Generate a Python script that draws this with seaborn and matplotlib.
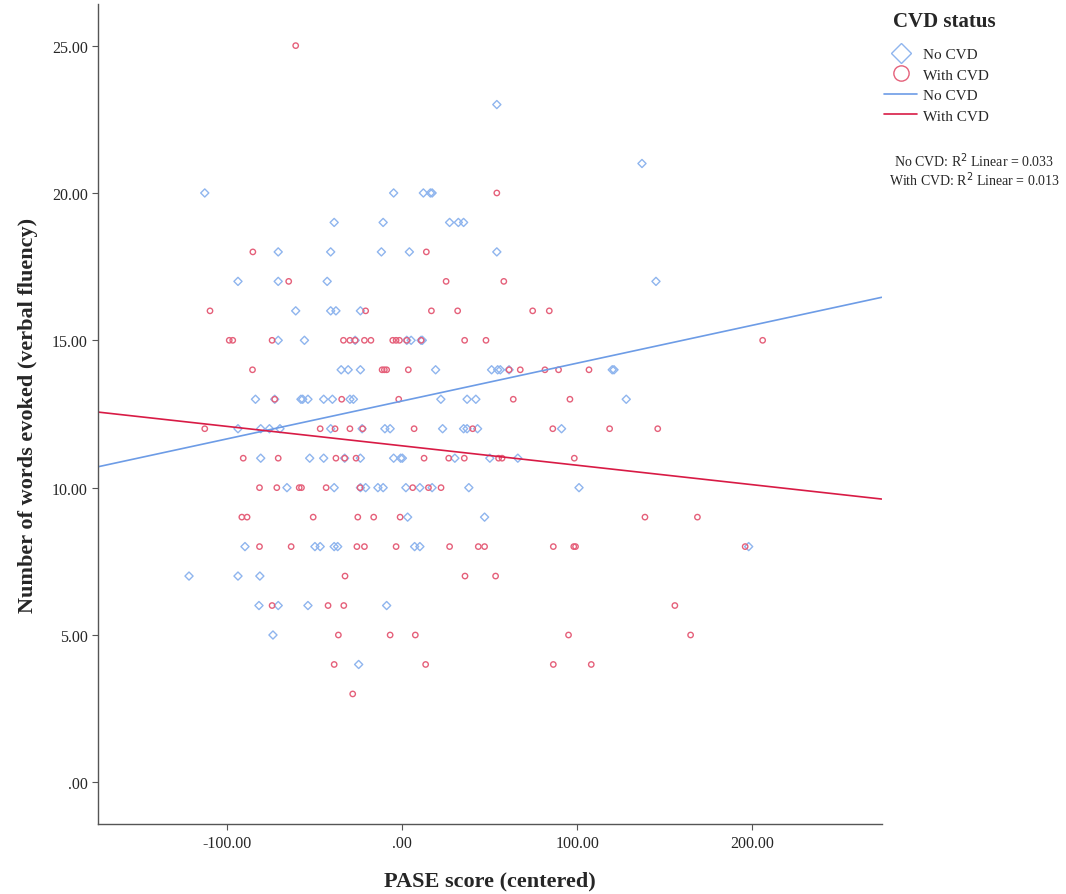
import numpy as np
import pandas as pd
import matplotlib
matplotlib.use("Agg")
import matplotlib.pyplot as plt
from matplotlib.lines import Line2D
from matplotlib.ticker import FuncFormatter
import seaborn as sns

# Values (PASE centered, words evoked)
no_cvd_x = [54, 137,
            -113, -5, 12, 16, 17,
            -39, -11, 27, 32, 35,
            -71, -41, -12, 4, 54,
            -94, -71, -43, 145,
            -61, -41, -38, -24,
            -71, -56, -27, 2.5, 5, 10.7, 11.4,
            -35, -31, -24, 19, 51, 54.5, 56, 61, 120, 121,
            -84, -73, -58, -57, -54, -45, -40, -30, -28, 22, 37, 42, 128,
            -94, -81, -76, -70, -41, -23, -10, -7, 23, 35, 37, 43, 91,
            -81, -53, -45, -33, -24, -5, -1, 0, 30, 50, 66,
            -66, -39, -24, -21, -14, -11, 2, 10, 17, 38, 101,
            3, 47,
            -90, -50, -47, -39, -37, 7, 10, 198,
            -122, -94, -81.5,
            -82, -71, -54, -9,
            -74,
            -25]
no_cvd_y = ([23, 21] + [20] * 5 + [19] * 5 + [18] * 5 + [17] * 4 + [16] * 4
            + [15] * 7 + [14] * 10 + [13] * 13 + [12] * 13 + [11] * 11
            + [10] * 11 + [9] * 2 + [8] * 8 + [7] * 3 + [6] * 4 + [5] + [4])

cvd_x = [-61,
         54,
         -85.5, 13.7,
         -65, 25, 58,
         -110, -21, 16.6, 31.6, 74.5, 84,
         -99, -97, -74.5, -33.7, -30, -27, -21.7, -18, -5.5, -3.6, -1.7, 2.5, 10.7, 35.6, 47.8, 206,
         -85.7, -11.6, -10.3, -9, 3.4, 61, 67.4, 81.5, 89.3, 106.7,
         -73, -34.7, -2.1, 63.4, 95.8,
         -113, -47, -38.5, -30, -22.7, 6.7, 40.2, 86, 118.5, 146,
         -91, -71, -38, -33, -26.5, 12.4, 26.5, 35.4, 55, 57, 98.3,
         -81.7, -71.8, -59, -57.7, -43.6, -24.2, 5.9, 14.9, 22.1,
         -91.8, -88.8, -51, -25.5, -16.4, -1.3, 138.7, 168.7,
         -81.7, -63.6, -26, -21.7, -3.6, 27, 43.4, 47, 86.3, 98, 99, 196,
         -32.8, 35.8, 53.3,
         -74.5, -42.5, -33.5, 155.8,
         -36.6, -7, 7.4, 95, 164.8,
         -39, 13.3, 86.3, 108,
         -28.4]
cvd_y = ([25, 20] + [18] * 2 + [17] * 3 + [16] * 6 + [15] * 16 + [14] * 10
         + [13] * 5 + [12] * 10 + [11] * 11 + [10] * 9 + [9] * 8 + [8] * 12
         + [7] * 3 + [6] * 4 + [5] * 5 + [4] * 4 + [3])

groups = ["No CVD", "With CVD"]
r2_values = [0.033, 0.013]

BLUE_PT = "#8fb5ee"
BLUE_LN = "#6d9ce6"
RED_PT = "#e5607a"
RED_LN = "#d81b45"

df = pd.concat([
    pd.DataFrame({"pase": no_cvd_x, "words": no_cvd_y, "cvd": groups[0]}),
    pd.DataFrame({"pase": cvd_x, "words": cvd_y, "cvd": groups[1]}),
], ignore_index=True)

sns.set_style("white")
plt.rcParams["font.family"] = ["Liberation Serif", "DejaVu Serif"]

fig = plt.figure(figsize=(10.66, 8.95), dpi=100)
ax = fig.add_axes([0.092, 0.078, 0.735, 0.916])
ax.set_xlim(-174, 274)
ax.set_ylim(-1.42, 26.4)

sub_b = df[df["cvd"] == groups[0]]
sub_r = df[df["cvd"] == groups[1]]
sns.scatterplot(data=sub_b, x="pase", y="words", marker="D", s=17,
                fc="none", ec=BLUE_PT, linewidth=1.0, ax=ax)
sns.scatterplot(data=sub_r, x="pase", y="words", marker="o", s=15,
                fc="none", ec=RED_PT, linewidth=1.0, ax=ax)

# linear fit lines spanning the whole axis
sns.regplot(data=sub_b, x="pase", y="words", scatter=False, ci=None,
            truncate=False, color=BLUE_LN, line_kws={"linewidth": 1.2}, ax=ax)
sns.regplot(data=sub_r, x="pase", y="words", scatter=False, ci=None,
            truncate=False, color=RED_LN, line_kws={"linewidth": 1.2}, ax=ax)
ax.set_xlim(-174, 274)

ax.set_xticks([-100, 0, 100, 200])
ax.set_yticks([0, 5, 10, 15, 20, 25])
fmt = FuncFormatter(lambda v, p: ".00" if v == 0 else f"{v:.2f}")
ax.xaxis.set_major_formatter(fmt)
ax.yaxis.set_major_formatter(fmt)
ax.tick_params(axis="both", labelsize=11.5, length=4, color="#555555",
               direction="out", left=True, bottom=True)

for s in ["top", "right"]:
    ax.spines[s].set_visible(False)
for s in ["left", "bottom"]:
    ax.spines[s].set_color("#555555")
    ax.spines[s].set_linewidth(1.0)

ax.set_xlabel("PASE score (centered)", fontsize=16, fontweight="bold", labelpad=14)
ax.set_ylabel("Number of words evoked (verbal fluency)", fontsize=16,
              fontweight="bold", labelpad=10)

handles = [
    Line2D([], [], marker="D", linestyle="none", markersize=10, mfc="none",
           mec=BLUE_PT, mew=1.0),
    Line2D([], [], marker="o", linestyle="none", markersize=11, mfc="none",
           mec=RED_PT, mew=1.0),
    Line2D([], [], color=BLUE_LN, linewidth=1.2),
    Line2D([], [], color=RED_LN, linewidth=1.2),
]
labels = [groups[0], groups[1], groups[0], groups[1]]
fig.text(0.886, 0.975, "CVD status", ha="center", va="center",
         fontsize=15, fontweight="bold")
fig.legend(handles, labels, loc="upper left",
           bbox_to_anchor=(0.829, 0.946), frameon=False, fontsize=11,
           handlelength=2.2, handletextpad=0.4, labelspacing=0.45,
           borderaxespad=0, borderpad=0)

fig.text(0.9137, 0.820, f"{groups[0]}: R$^2$ Linear = {r2_values[0]:.3f}",
         ha="center", va="center", fontsize=10)
fig.text(0.9137, 0.799, f"{groups[1]}: R$^2$ Linear = {r2_values[1]:.3f}",
         ha="center", va="center", fontsize=10)

fig.savefig("out.png", dpi=100)
